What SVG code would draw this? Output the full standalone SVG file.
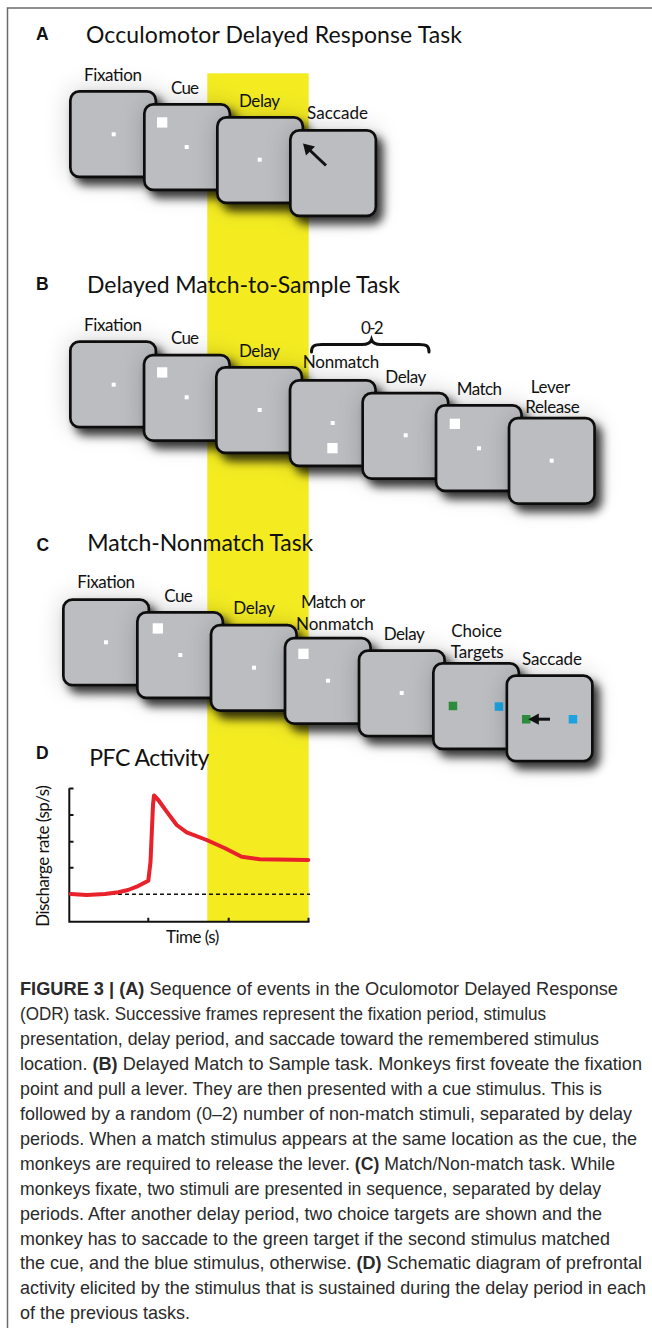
<svg xmlns="http://www.w3.org/2000/svg" width="652" height="1334" viewBox="0 0 652 1334">
<defs>
<filter id="sh" x="-50%" y="-50%" width="200%" height="200%">
<feGaussianBlur in="SourceAlpha" stdDeviation="13" result="b1"/>
<feComponentTransfer in="b1" result="halo"><feFuncA type="linear" slope="0.18"/></feComponentTransfer>
<feGaussianBlur in="SourceAlpha" stdDeviation="5" result="b2"/>
<feOffset in="b2" dx="6" dy="7" result="o2"/>
<feComponentTransfer in="o2" result="s2"><feFuncA type="linear" slope="0.78"/></feComponentTransfer>
<feMerge><feMergeNode in="halo"/><feMergeNode in="s2"/><feMergeNode in="SourceGraphic"/></feMerge>
</filter>
<style>
.frame{fill:#bcbdc1;stroke:#111;stroke-width:2.7}
.fix{fill:#fff}
.lbl{font-family:Lato,"Open Sans",sans-serif;font-size:17px;fill:#111}
.ttl{font-family:Lato,"Open Sans",sans-serif;font-size:23px;fill:#111}
.pl{font-family:"Liberation Sans",Arial,sans-serif;font-weight:bold;font-size:17.5px;fill:#111}
.cap{font-family:"Liberation Sans",Arial,sans-serif;font-size:17.8px;fill:#2a2a2a}
.b{font-weight:bold}
.ax{stroke:#111;stroke-width:2;fill:none}
</style>
</defs>
<rect width="652" height="1334" fill="#fff"/>
<path d="M7.5,1328 V8 H652" stroke="#6b6b6b" stroke-width="1.5" fill="none"/>
<rect id="delay-band" x="207.3" y="73.3" width="101.4" height="848.4" fill="#f4ec21"/>

<g id="panel-a">
<text class="pl" x="36" y="40">A</text>
<text class="ttl" x="86" y="42.7" textLength="376">Occulomotor Delayed Response Task</text>
<g id="a-fixation"><rect class="frame" filter="url(#sh)" x="70.35" y="91.35" width="85.5" height="85.5" rx="9"/><rect class="fix" x="111.7" y="132.3" width="4" height="4"/><text class="lbl" x="84" y="81" textLength="58">Fixation</text></g>
<g id="a-cue"><rect class="frame" filter="url(#sh)" x="144.35" y="104.35" width="85.5" height="85.5" rx="9"/><rect class="fix" x="157" y="117.3" width="10.3" height="10.3"/><rect class="fix" x="184.7" y="145" width="4" height="4"/><text class="lbl" x="171" y="94" textLength="28">Cue</text></g>
<g id="a-delay"><rect class="frame" filter="url(#sh)" x="217.35" y="117.35" width="85.5" height="85.5" rx="9"/><rect class="fix" x="257.7" y="157.7" width="4" height="4"/><text class="lbl" x="239" y="106.7" textLength="41">Delay</text></g>
<g id="a-saccade"><rect class="frame" filter="url(#sh)" x="290.35" y="130.35" width="85.5" height="85.5" rx="9"/><line x1="326" y1="165.5" x2="308" y2="148.5" stroke="#111" stroke-width="3"/><polygon points="303,143.5 315,146.5 306,155.5" fill="#111"/><text class="lbl" x="307" y="118.7" textLength="61">Saccade</text></g>
</g>

<g id="panel-b">
<text class="pl" x="36" y="289.5">B</text>
<text class="ttl" x="87" y="293.3" textLength="313">Delayed Match-to-Sample Task</text>
<g id="b-fixation"><rect class="frame" filter="url(#sh)" x="70.35" y="341.65" width="85.5" height="85.5" rx="9"/><rect class="fix" x="111.7" y="382.7" width="4" height="4"/><text class="lbl" x="84" y="331" textLength="58">Fixation</text></g>
<g id="b-cue"><rect class="frame" filter="url(#sh)" x="144.05" y="355.05" width="85.5" height="85.5" rx="9"/><rect class="fix" x="157" y="367.3" width="10.3" height="10.3"/><rect class="fix" x="184.7" y="395.3" width="4" height="4"/><text class="lbl" x="171" y="344" textLength="28">Cue</text></g>
<g id="b-delay"><rect class="frame" filter="url(#sh)" x="216.35" y="367.35" width="85.5" height="85.5" rx="9"/><rect class="fix" x="257.7" y="408" width="4" height="4"/><text class="lbl" x="239" y="357" textLength="41">Delay</text></g>
<g id="b-nonmatch"><rect class="frame" filter="url(#sh)" x="290.05" y="380.35" width="85.5" height="85.5" rx="9"/><rect class="fix" x="330.7" y="421" width="4" height="4"/><rect class="fix" x="327.3" y="443" width="10.3" height="10.3"/><text class="lbl" x="302.7" y="368" textLength="76.6">Nonmatch</text></g>
<g id="b-delay2"><rect class="frame" filter="url(#sh)" x="362.65" y="393.05" width="85.5" height="85.5" rx="9"/><rect class="fix" x="403.7" y="433.3" width="4" height="4"/><text class="lbl" x="385.3" y="382.7" textLength="41">Delay</text></g>
<g id="b-match"><rect class="frame" filter="url(#sh)" x="436.05" y="405.35" width="85.5" height="85.5" rx="9"/><rect class="fix" x="449.7" y="418.7" width="10.3" height="10.3"/><rect class="fix" x="477" y="446.3" width="4" height="4"/><text class="lbl" x="456.7" y="395" textLength="45.3">Match</text></g>
<g id="b-release"><rect class="frame" filter="url(#sh)" x="509.05" y="418.05" width="85.5" height="85.5" rx="9"/><rect class="fix" x="549.7" y="458.7" width="4" height="4"/><text class="lbl" x="530.7" y="392.5" textLength="39.6">Lever</text><text class="lbl" x="525.3" y="413.3" textLength="54.4">Release</text></g>
<g id="b-repeat"><path d="M311.5,352 C311.5,346 314,344.5 322,344.5 L362,344.5 C367.5,344.5 370.5,343 371.5,339.8 C372.5,343 375.5,344.5 381,344.5 L419,344.5 C427,344.5 429,346 429,352" fill="none" stroke="#111" stroke-width="3" stroke-linecap="round"/><text class="lbl" x="361" y="334" textLength="22.7">0-2</text></g>
</g>

<g id="panel-c">
<text class="pl" x="36.5" y="551">C</text>
<text class="ttl" x="87.3" y="550.8" textLength="226">Match-Nonmatch Task</text>
<g id="c-fixation"><rect class="frame" filter="url(#sh)" x="63.35" y="599.65" width="85.5" height="85.5" rx="9"/><rect class="fix" x="104" y="640.3" width="4" height="4"/><text class="lbl" x="77.3" y="588.3" textLength="57.7">Fixation</text></g>
<g id="c-cue"><rect class="frame" filter="url(#sh)" x="137.35" y="612.35" width="85.5" height="85.5" rx="9"/><rect class="fix" x="152.7" y="623.3" width="10.3" height="10.3"/><rect class="fix" x="178.3" y="653" width="4" height="4"/><text class="lbl" x="164.3" y="601.7" textLength="28.4">Cue</text></g>
<g id="c-delay"><rect class="frame" filter="url(#sh)" x="211.05" y="625.05" width="85.5" height="85.5" rx="9"/><rect class="fix" x="252" y="665.7" width="4" height="4"/><text class="lbl" x="233.3" y="614.3" textLength="41.7">Delay</text></g>
<g id="c-test"><rect class="frame" filter="url(#sh)" x="285.05" y="638.05" width="85.5" height="85.5" rx="9"/><rect class="fix" x="298.3" y="648.7" width="10.3" height="10.3"/><rect class="fix" x="326" y="678.7" width="4" height="4"/><text class="lbl" x="301" y="608.3" textLength="64.3">Match or</text><text class="lbl" x="296" y="630" textLength="77.7">Nonmatch</text></g>
<g id="c-delay2"><rect class="frame" filter="url(#sh)" x="359.05" y="650.65" width="85.5" height="85.5" rx="9"/><rect class="fix" x="399.7" y="691" width="4" height="4"/><text class="lbl" x="383.7" y="640" textLength="41">Delay</text></g>
<g id="c-choice"><rect class="frame" filter="url(#sh)" x="433.35" y="663.35" width="85.5" height="85.5" rx="9"/><rect x="448.7" y="701.7" width="8.5" height="8.5" fill="#2d8c3c"/><rect x="494.7" y="702.3" width="8.5" height="8.5" fill="#1aa3e0"/><text class="lbl" x="451.3" y="636.7" textLength="50.7">Choice</text><text class="lbl" x="450.7" y="657.7" textLength="53">Targets</text></g>
<g id="c-saccade"><rect class="frame" filter="url(#sh)" x="506.85" y="675.65" width="85.5" height="85.5" rx="9"/><rect x="522" y="715" width="8.5" height="8.5" fill="#2d8c3c"/><rect x="568.7" y="715" width="8.5" height="8.5" fill="#1aa3e0"/><line x1="550" y1="719.2" x2="534" y2="719.2" stroke="#111" stroke-width="3"/><polygon points="528.3,719.2 538.8,713.6 538.8,724.8" fill="#111"/><text class="lbl" x="522" y="665" textLength="60">Saccade</text></g>
</g>

<g id="panel-d">
<text class="pl" x="36" y="759">D</text>
<text class="ttl" x="89.3" y="765.5" textLength="120">PFC Activity</text>
<line x1="69" y1="894.3" x2="310" y2="894.3" stroke="#111" stroke-width="1.5" stroke-dasharray="4 3"/>
<path class="ax" d="M69.3,788.3 V921.7 H309.5"/>
<path class="ax" d="M69.3,788.5 H73.5 M69.3,815 H73.5 M69.3,841.7 H73.5 M69.3,867.7 H73.5 M148.3,921.7 V917.8 M228.7,921.7 V917.8 M308.5,921.7 V917.8"/>
<polyline points="70.7,894 86.7,895 105,894 118.3,892.3 128,890 136.7,886.7 148.3,880.7 150.5,862 153,805 154,795.5 158.3,800 166.7,811.7 176.7,825 186.7,832.3 206.7,840 225,848.3 241.7,856.7 260,859.3 308.3,860" fill="none" stroke="#e8212a" stroke-width="4" stroke-linejoin="round" stroke-linecap="round"/>
<text class="lbl" transform="translate(48.5,856) rotate(-90)" text-anchor="middle" textLength="141.7">Discharge rate (sp/s)</text>
<text class="lbl" x="166" y="943.3" textLength="53.3">Time (s)</text>
</g>

<g id="caption">
<text class="cap" x="20" y="995.3" textLength="598" lengthAdjust="spacingAndGlyphs"><tspan class="b">FIGURE 3 | (A)</tspan> Sequence of events in the Oculomotor Delayed Response</text>
<text class="cap" x="20" y="1020.2" textLength="526" lengthAdjust="spacingAndGlyphs">(ODR) task. Successive frames represent the fixation period, stimulus</text>
<text class="cap" x="20" y="1045.1" textLength="579" lengthAdjust="spacingAndGlyphs">presentation, delay period, and saccade toward the remembered stimulus</text>
<text class="cap" x="20" y="1070.1" textLength="622" lengthAdjust="spacingAndGlyphs">location. <tspan class="b">(B)</tspan> Delayed Match to Sample task. Monkeys first foveate the fixation</text>
<text class="cap" x="20" y="1095" textLength="582" lengthAdjust="spacingAndGlyphs">point and pull a lever. They are then presented with a cue stimulus. This is</text>
<text class="cap" x="20" y="1119.9" textLength="612" lengthAdjust="spacingAndGlyphs">followed by a random (0–2) number of non-match stimuli, separated by delay</text>
<text class="cap" x="20" y="1144.8" textLength="617" lengthAdjust="spacingAndGlyphs">periods. When a match stimulus appears at the same location as the cue, the</text>
<text class="cap" x="20" y="1169.7" textLength="595" lengthAdjust="spacingAndGlyphs">monkeys are required to release the lever. <tspan class="b">(C)</tspan> Match/Non-match task. While</text>
<text class="cap" x="20" y="1194.7" textLength="581" lengthAdjust="spacingAndGlyphs">monkeys fixate, two stimuli are presented in sequence, separated by delay</text>
<text class="cap" x="20" y="1219.6" textLength="582" lengthAdjust="spacingAndGlyphs">periods. After another delay period, two choice targets are shown and the</text>
<text class="cap" x="20" y="1244.5" textLength="590" lengthAdjust="spacingAndGlyphs">monkey has to saccade to the green target if the second stimulus matched</text>
<text class="cap" x="20" y="1269.4" textLength="622" lengthAdjust="spacingAndGlyphs">the cue, and the blue stimulus, otherwise. <tspan class="b">(D)</tspan> Schematic diagram of prefrontal</text>
<text class="cap" x="20" y="1294.3" textLength="626" lengthAdjust="spacingAndGlyphs">activity elicited by the stimulus that is sustained during the delay period in each</text>
<text class="cap" x="20" y="1319.3" textLength="170" lengthAdjust="spacingAndGlyphs">of the previous tasks.</text>
</g>
</svg>
